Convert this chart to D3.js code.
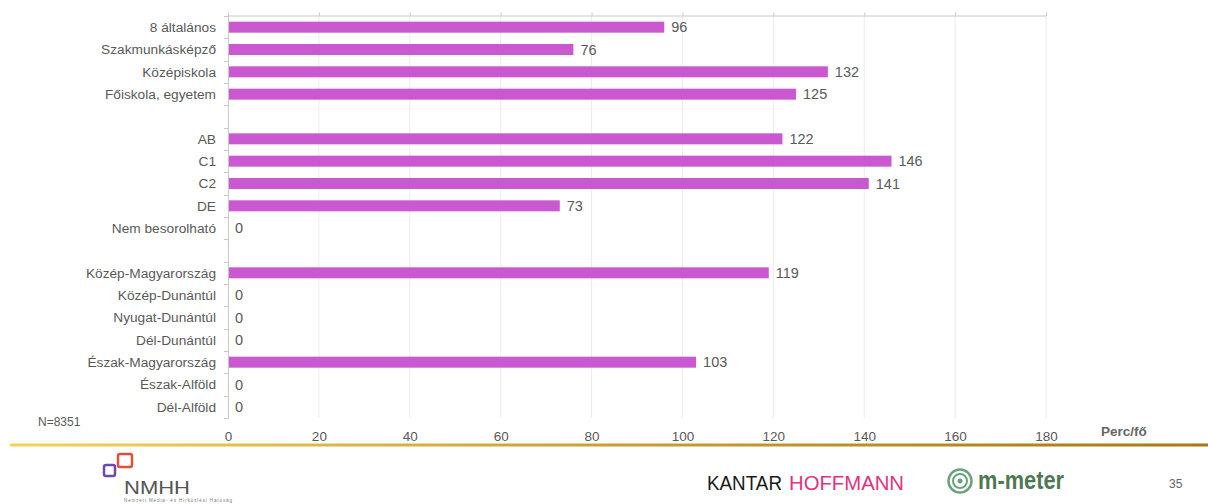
<!DOCTYPE html>
<html><head><meta charset="utf-8">
<script src="https://cdn.jsdelivr.net/npm/d3@7"></script>
<style>body{margin:0;background:#fff;} svg{display:block;font-family:"Liberation Sans",Arial,sans-serif;}</style>
</head><body>
<svg id="c" width="1208" height="504"></svg>
<script>
const categories = ["8 általános","Szakmunkásképző","Középiskola","Főiskola, egyetem","_gap1",
  "AB","C1","C2","DE","Nem besorolható","_gap2",
  "Közép-Magyarország","Közép-Dunántúl","Nyugat-Dunántúl","Dél-Dunántúl","Észak-Magyarország","Észak-Alföld","Dél-Alföld"];
const values = [96,76,132,125,null,122,146,141,73,0,null,119,0,0,0,103,0,0];
const xTicks = [0,20,40,60,80,100,120,140,160,180];

(function(){
const svg = d3.select("#c");
const x = d3.scaleLinear().domain([0,180]).range([228,1046]);
const y = d3.scaleBand().domain(categories).range([16,418]).paddingInner(0).paddingOuter(0);
const txt = "#595959";

// gridlines
svg.append("g").selectAll("line").data(xTicks.slice(1)).join("line")
  .attr("x1",d=>x(d)).attr("x2",d=>x(d)).attr("y1",16).attr("y2",418)
  .attr("stroke","#ececec").attr("stroke-width",1);

// top axis (ticks only)
const topAx = svg.append("g").attr("transform","translate(0,15.5)")
  .call(d3.axisTop(x).tickValues(xTicks).tickSize(3).tickFormat(""));
topAx.select(".domain").attr("stroke","#c8c8c8");
topAx.selectAll(".tick line").attr("stroke","#c8c8c8");

// bottom axis labels
const bot = svg.append("g").attr("transform","translate(0,428)")
  .call(d3.axisBottom(x).tickValues(xTicks).tickSize(0).tickPadding(3));
bot.select(".domain").remove();
bot.selectAll("text").attr("fill",txt).attr("font-size",13.5).attr("font-family","Liberation Sans, Arial, sans-serif");

// left axis line and boundary ticks
svg.append("line").attr("x1",228.5).attr("x2",228.5).attr("y1",13).attr("y2",419).attr("stroke","#c8c8c8");
const bounds = categories.map(c=>y(c)).concat([y.range()[1]]);
svg.append("g").selectAll("line").data(bounds).join("line")
  .attr("x1",224).attr("x2",228).attr("y1",d=>Math.round(d)+0.5).attr("y2",d=>Math.round(d)+0.5)
  .attr("stroke","#c8c8c8");

// category labels
svg.append("g").selectAll("text").data(categories.filter(c=>!c.startsWith("_gap"))).join("text")
  .attr("x",216).attr("y",c=>y(c)+y.bandwidth()/2).attr("dy","0.35em")
  .attr("text-anchor","end").attr("fill",txt).attr("font-size",13.7).text(c=>c);

const data = categories.map((c,i)=>({c,v:values[i]})).filter(d=>d.v!==null);
// bars
svg.append("g").selectAll("rect").data(data.filter(d=>d.v>0)).join("rect")
  .attr("x",x(0)+1).attr("y",d=>y(d.c)+y.bandwidth()/2-5.5)
  .attr("width",d=>x(d.v)-x(0)-1).attr("height",11).attr("fill","#c958d1");
// value labels
svg.append("g").selectAll("text").data(data).join("text")
  .attr("x",d=>x(d.v)+(d.v>0?7:7)).attr("y",d=>y(d.c)+y.bandwidth()/2).attr("dy","0.36em")
  .attr("fill",txt).attr("font-size",14.5).text(d=>d.v);

// N and unit
svg.append("text").attr("x",38).attr("y",426).attr("fill",txt).attr("font-size",12).text("N=8351");
svg.append("text").attr("x",1101).attr("y",436).attr("fill","#666").attr("font-size",13.5).attr("font-weight","bold").text("Perc/fő");

// gold line
const defs = svg.append("defs");
const g = defs.append("linearGradient").attr("id","gold").attr("x1","0").attr("x2","1");
g.append("stop").attr("offset","0").attr("stop-color","#f0d45a");
g.append("stop").attr("offset","0.5").attr("stop-color","#c8a030");
g.append("stop").attr("offset","1").attr("stop-color","#a57a10");
svg.append("rect").attr("x",10).attr("y",443.5).attr("width",1198).attr("height",3).attr("fill","url(#gold)");

// page number
svg.append("text").attr("x",1169).attr("y",488).attr("fill","#666").attr("font-size",12).text("35");

// Kantar Hoffmann
svg.append("text").attr("x",707).attr("y",490).attr("font-size",21).attr("fill","#1a1a1a")
  .attr("textLength",75).attr("lengthAdjust","spacingAndGlyphs").text("KANTAR");
svg.append("text").attr("x",789).attr("y",490).attr("font-size",21).attr("fill","#e0337f")
  .attr("textLength",115).attr("lengthAdjust","spacingAndGlyphs").text("HOFFMANN");

// m-meter
const mm = svg.append("g");
[[11.5,2.5],[7,2],[2.5,0]].forEach(([r,w])=>{
  if(w>0) mm.append("circle").attr("cx",960).attr("cy",481).attr("r",r).attr("fill","none").attr("stroke","#6aa37a").attr("stroke-width",w);
  else mm.append("circle").attr("cx",960).attr("cy",481).attr("r",r).attr("fill","#6aa37a");
});
mm.append("text").attr("x",978).attr("y",489).attr("fill","#4d7a55").attr("font-size",25).attr("font-weight","bold")
  .attr("textLength",86).attr("lengthAdjust","spacingAndGlyphs").text("m-meter");

// NMHH logo
const nl = svg.append("g");
nl.append("rect").attr("x",104).attr("y",465).attr("width",11).attr("height",11).attr("rx",2).attr("fill","none").attr("stroke","#6a4ab0").attr("stroke-width",2.5);
nl.append("rect").attr("x",118).attr("y",454).attr("width",14).attr("height",13).attr("rx",2).attr("fill","none").attr("stroke","#e0503a").attr("stroke-width",2.5);
nl.append("text").attr("x",124).attr("y",494).attr("fill","#555").attr("font-size",19).attr("textLength",66).attr("lengthAdjust","spacingAndGlyphs").text("NMHH");
nl.append("text").attr("x",124).attr("y",502).attr("fill","#777").attr("font-size",4.5).attr("textLength",108).text("Nemzeti Média- és Hírközlési Hatóság");
})();
</script>
</body></html>
